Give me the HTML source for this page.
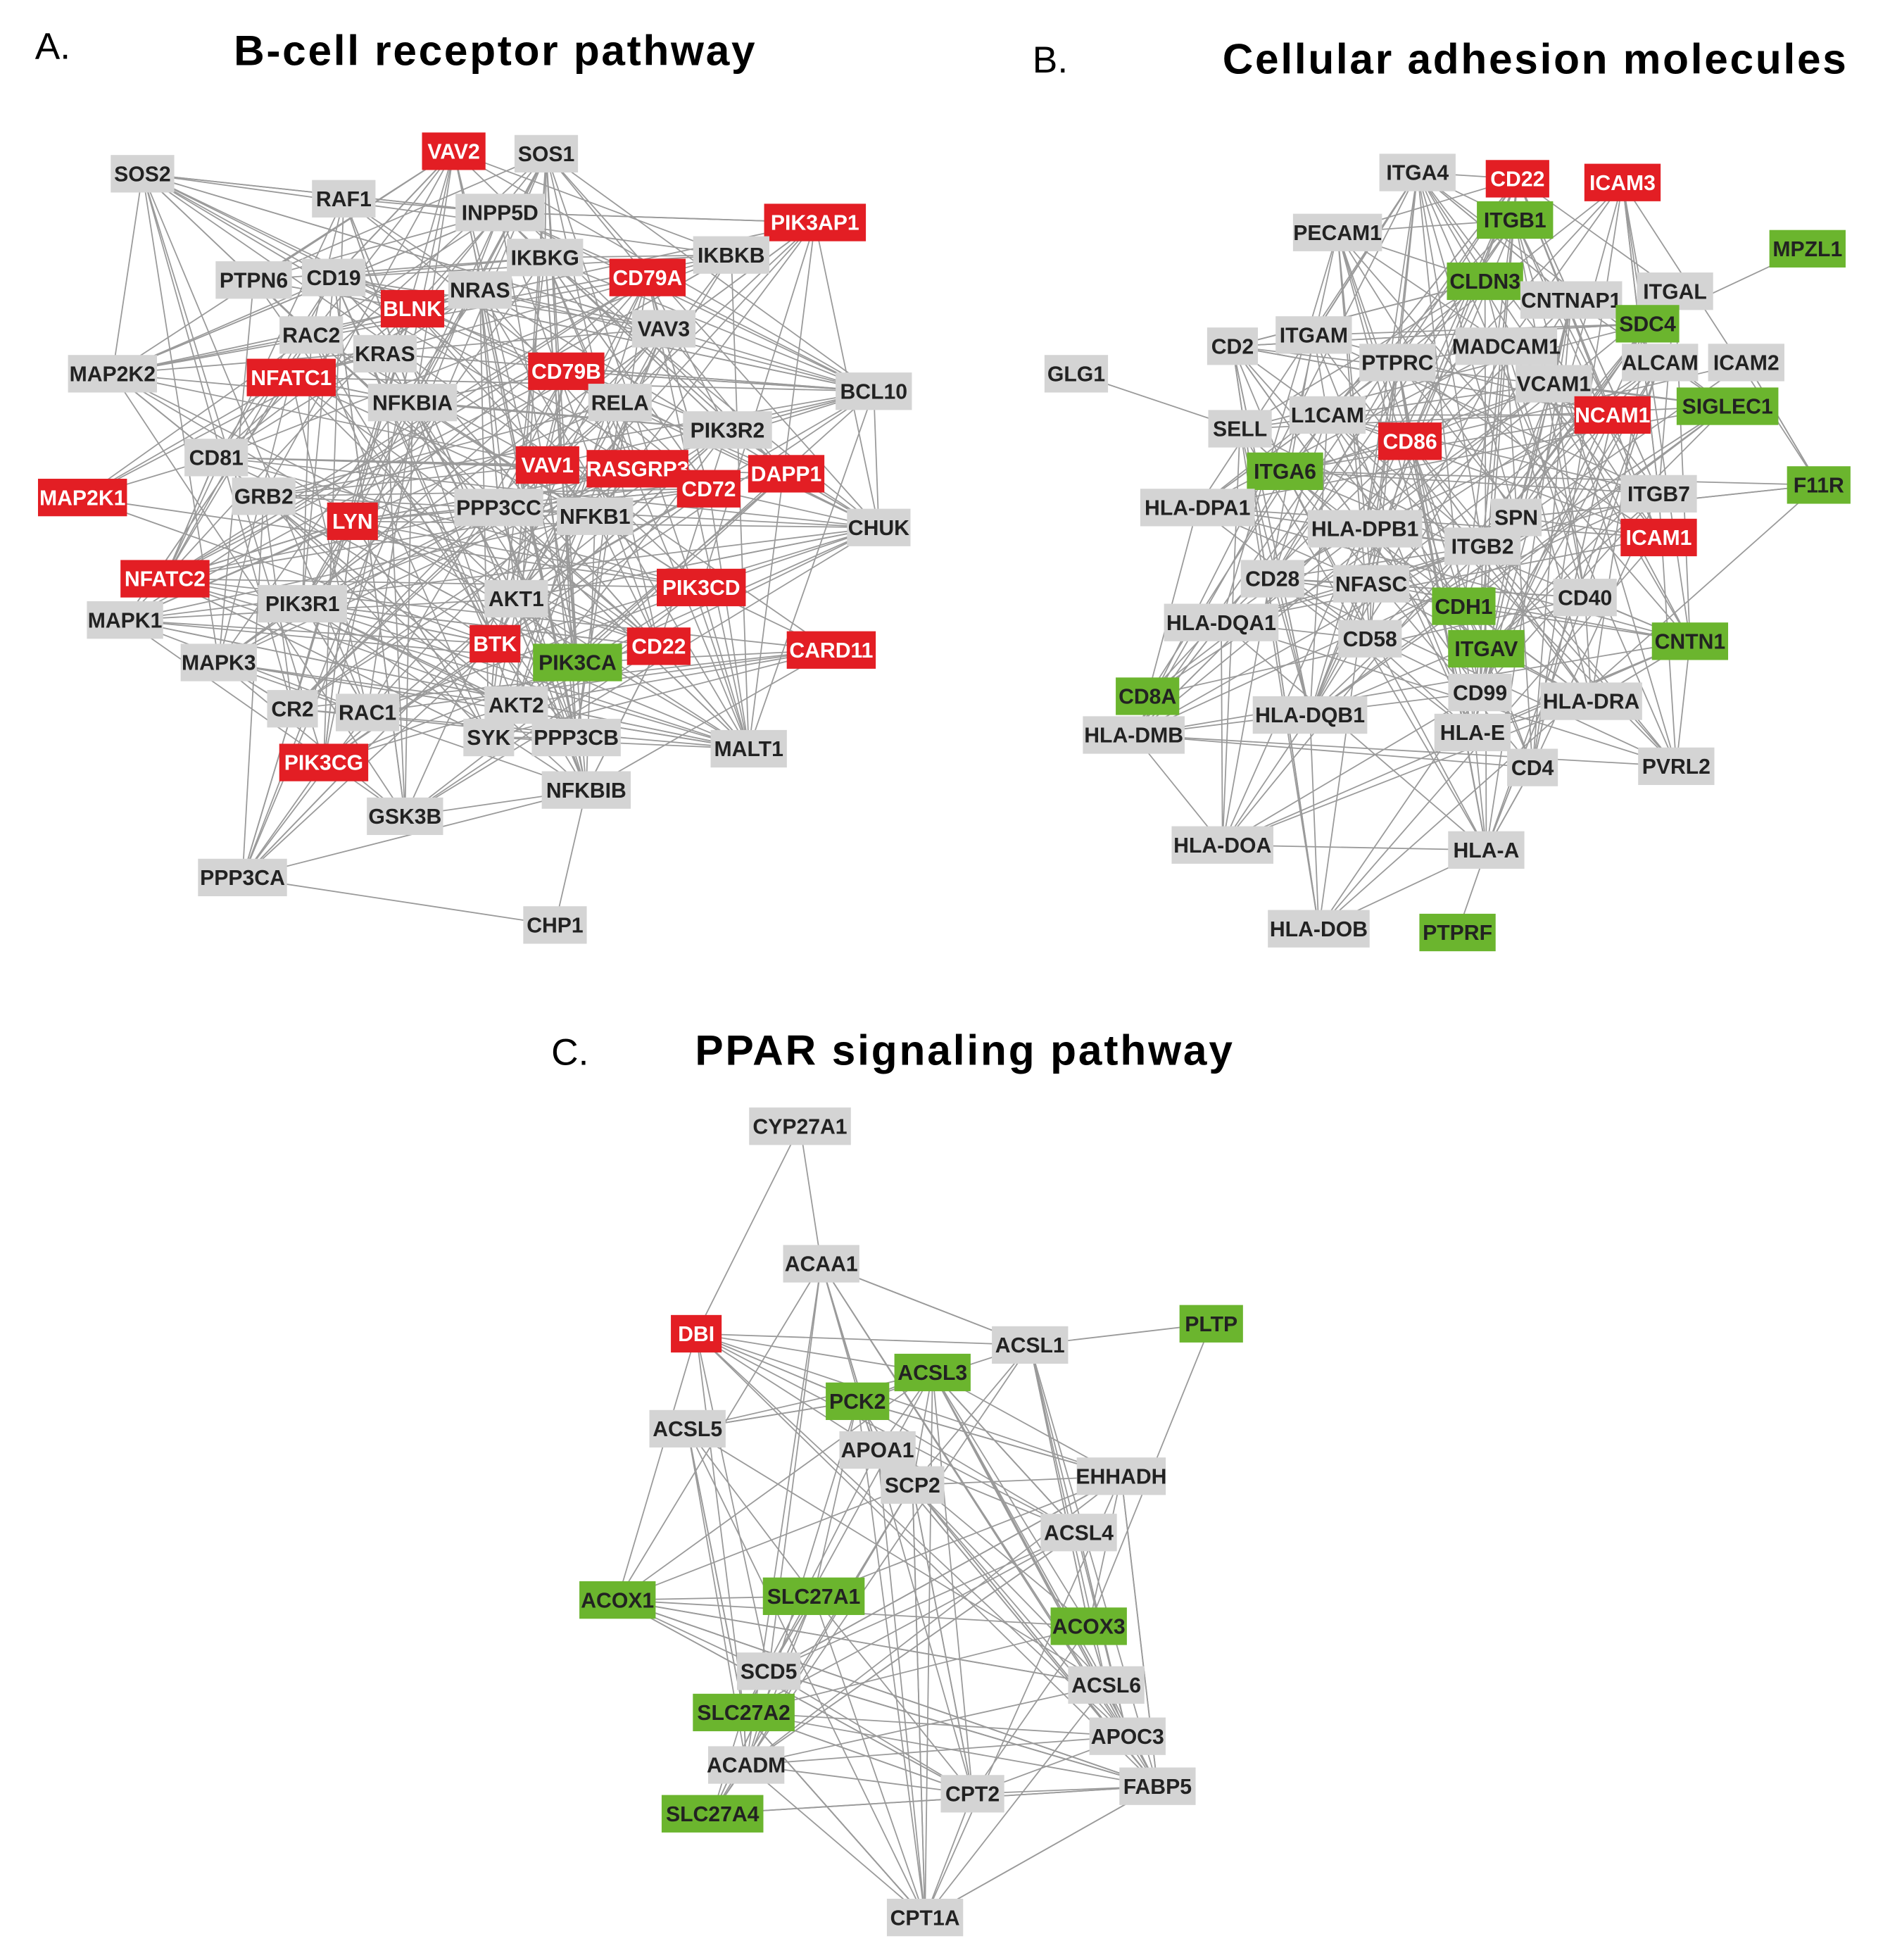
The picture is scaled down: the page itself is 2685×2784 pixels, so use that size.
<!DOCTYPE html>
<html><head><meta charset="utf-8"><style>
html,body{margin:0;padding:0;background:#fff;}
svg{display:block;}
text{font-family:"Liberation Sans",sans-serif;}
</style></head><body>
<svg id="s" width="2685" height="2784" viewBox="0 0 1512 1568" preserveAspectRatio="none" xmlns="http://www.w3.org/2000/svg">
<rect width="1512" height="1568" fill="#fff"/>
<g id="edges" stroke="#9a9a9a" stroke-width="1" fill="none"></g>
<g id="nodes"></g>
<text x="28" y="47" font-size="30">A.</text>
<text x="187" y="52" font-size="34" font-weight="bold" textLength="417" lengthAdjust="spacing">B-cell receptor pathway</text>
<text x="826" y="58" font-size="30">B.</text>
<text x="978" y="59" font-size="34" font-weight="bold" textLength="499" lengthAdjust="spacing">Cellular adhesion molecules</text>
<text x="441" y="852" font-size="30">C.</text>
<text x="556" y="852" font-size="34" font-weight="bold" textLength="430" lengthAdjust="spacing">PPAR signaling pathway</text>
</svg>
<script>
var R="#e31e24",G="#6bb52e",N="#d4d4d4";
var A=[["SOS2",114,139,N],["VAV2",363,121,R],["SOS1",437,123,N],["RAF1",275,159,N],["INPP5D",400,170,N],["PIK3AP1",652,178,R],["IKBKG",436,206,N],["IKBKB",585,204,N],["CD79A",518,222,R],["PTPN6",203,224,N],["CD19",267,222,N],["BLNK",330,247,R],["NRAS",384,232,N],["VAV3",531,263,N],["RAC2",249,268,N],["KRAS",308,283,N],["MAP2K2",90,299,N],["NFATC1",233,302,R],["CD79B",453,297,R],["NFKBIA",330,322,N],["RELA",496,322,N],["BCL10",699,313,N],["PIK3R2",582,344,N],["CD81",173,366,N],["VAV1",438,372,R],["RASGRP3",510,375,R],["DAPP1",629,379,R],["CD72",567,391,R],["MAP2K1",66,398,R],["GRB2",211,397,N],["LYN",282,417,R],["PPP3CC",399,406,N],["NFKB1",476,413,N],["CHUK",703,422,N],["NFATC2",132,463,R],["PIK3CD",561,470,R],["PIK3R1",242,483,N],["AKT1",413,479,N],["MAPK1",100,496,N],["BTK",396,515,R],["PIK3CA",462,530,G],["CD22",527,517,R],["CARD11",665,520,R],["MAPK3",175,530,N],["CR2",234,567,N],["RAC1",294,570,N],["AKT2",413,564,N],["SYK",391,590,N],["PPP3CB",461,590,N],["MALT1",599,599,N],["PIK3CG",259,610,R],["NFKBIB",469,632,N],["GSK3B",324,653,N],["PPP3CA",194,702,N],["CHP1",444,740,N]];
var B=[["ITGA4",1134,138,N],["CD22",1214,143,R],["ICAM3",1298,146,R],["ITGB1",1212,176,G],["PECAM1",1070,186,N],["MPZL1",1446,199,G],["CLDN3",1188,225,G],["CNTNAP1",1257,240,N],["ITGAL",1340,233,N],["SDC4",1318,259,G],["CD2",986,277,N],["ITGAM",1051,268,N],["MADCAM1",1205,277,N],["PTPRC",1118,290,N],["ALCAM",1328,290,N],["ICAM2",1397,290,N],["GLG1",861,299,N],["VCAM1",1243,307,N],["SIGLEC1",1382,325,G],["NCAM1",1290,332,R],["L1CAM",1062,332,N],["SELL",992,343,N],["CD86",1128,353,R],["ITGA6",1028,377,G],["F11R",1455,388,G],["ITGB7",1327,395,N],["HLA-DPA1",958,406,N],["SPN",1213,414,N],["HLA-DPB1",1092,423,N],["ICAM1",1327,430,R],["ITGB2",1186,437,N],["CD28",1018,463,N],["NFASC",1097,467,N],["CD40",1268,478,N],["CDH1",1171,485,G],["HLA-DQA1",977,498,N],["CD58",1096,511,N],["CNTN1",1352,513,G],["ITGAV",1189,519,G],["CD8A",918,557,G],["CD99",1184,554,N],["HLA-DRA",1273,561,N],["HLA-DQB1",1048,572,N],["HLA-DMB",907,588,N],["HLA-E",1178,586,N],["CD4",1226,614,N],["PVRL2",1341,613,N],["HLA-DOA",978,676,N],["HLA-A",1189,680,N],["HLA-DOB",1055,743,N],["PTPRF",1166,746,G]];
var C=[["CYP27A1",640,901,N],["ACAA1",657,1011,N],["DBI",557,1067,R],["PLTP",969,1059,G],["ACSL1",824,1076,N],["ACSL3",746,1098,G],["PCK2",686,1121,G],["ACSL5",550,1143,N],["APOA1",702,1160,N],["EHHADH",897,1181,N],["SCP2",730,1188,N],["ACSL4",863,1226,N],["ACOX1",494,1280,G],["SLC27A1",651,1277,G],["ACOX3",871,1301,G],["SCD5",615,1337,N],["ACSL6",885,1348,N],["SLC27A2",595,1370,G],["APOC3",902,1389,N],["ACADM",597,1412,N],["FABP5",926,1429,N],["CPT2",778,1435,N],["SLC27A4",570,1451,G],["CPT1A",740,1534,N]];
var seed=7;function rnd(){seed=(seed*16807)%2147483647;return seed/2147483647;}
var eg=document.getElementById("edges"),ng=document.getElementById("nodes"),ns="http://www.w3.org/2000/svg";
function line(a,b){var l=document.createElementNS(ns,"line");l.setAttribute("x1",a[1]);l.setAttribute("y1",a[2]);l.setAttribute("x2",b[1]);l.setAttribute("y2",b[2]);eg.appendChild(l);}
function find(arr,n){for(var i=0;i<arr.length;i++)if(arr[i][0]==n)return arr[i];}
function edges(arr,count,skip){var pool=arr.filter(function(n){return skip.indexOf(n[0])<0;});
for(var k=0;k<count;k++){var a=pool[Math.floor(rnd()*pool.length)],b=pool[Math.floor(rnd()*pool.length)];if(a!==b)line(a,b);}}
edges(A,420,["CHP1"]);edges(B,300,["GLG1","MPZL1","PTPRF"]);edges(C,170,["CYP27A1","PLTP"]);
[["CHP1","PPP3CA"],["CHP1","NFKBIB"]].forEach(function(p){line(find(A,p[0]),find(A,p[1]));});
[["GLG1","SELL"],["MPZL1","SDC4"],["PTPRF","HLA-A"]].forEach(function(p){line(find(B,p[0]),find(B,p[1]));});
[["CYP27A1","DBI"],["CYP27A1","ACAA1"],["PLTP","ACSL1"],["PLTP","ACOX3"]].forEach(function(p){line(find(C,p[0]),find(C,p[1]));});
A.concat(B,C).forEach(function(n){var w=n[0].length*10.2+10,h=30;
var r=document.createElementNS(ns,"rect");r.setAttribute("x",n[1]-w/2);r.setAttribute("y",n[2]-h/2);r.setAttribute("width",w);r.setAttribute("height",h);r.setAttribute("fill",n[3]);ng.appendChild(r);
var t=document.createElementNS(ns,"text");t.setAttribute("x",n[1]);t.setAttribute("y",n[2]+6);t.setAttribute("text-anchor","middle");t.setAttribute("font-size","17");t.setAttribute("font-weight","bold");t.setAttribute("fill",n[3]==R?"#fff":"#222");t.textContent=n[0];ng.appendChild(t);});
</script>
</body></html>
